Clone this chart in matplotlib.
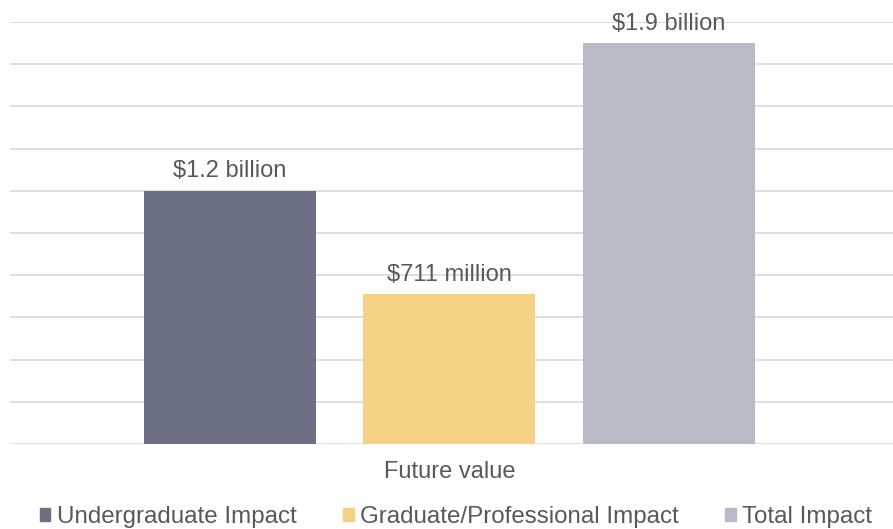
import matplotlib.pyplot as plt
from matplotlib.patches import Rectangle

plt.rcParams['font.family'] = ['Liberation Sans', 'DejaVu Sans']

series = ["Undergraduate Impact", "Graduate/Professional Impact", "Total Impact"]
values = [1.2, 0.711, 1.9]  # billions
labels = ["$1.2 billion", "$711 million", "$1.9 billion"]
category = "Future value"
colors = ["#6B7082", "#F5D185", "#B9BAC8"]
text_color = "#595959"


def main():
    fig = plt.figure(figsize=(8.93, 5.29), dpi=100)
    ax = fig.add_axes([10 / 893, 1 - 444 / 529, 883 / 893, 422 / 529])

    xs = [-1, 0, 1]
    bars = ax.bar(xs, values, width=0.782, color=colors, zorder=3)
    ax.bar_label(bars, labels=labels, padding=6, fontsize=17, color=text_color)

    ax.set_ylim(0, 2.0)
    ax.set_xlim(-2.0, 2.02)
    ax.set_yticks([i * 0.2 for i in range(11)])
    ax.yaxis.grid(True, color="#DCDCDC", linewidth=1.3, zorder=0)
    ax.tick_params(axis="y", left=False, labelleft=False)
    ax.set_xticks([0])
    ax.set_xticklabels([category], fontsize=17, color=text_color)
    ax.tick_params(axis="x", length=0, pad=12)
    for s in ax.spines.values():
        s.set_visible(False)

    handles = [Rectangle((0, 0), 1, 1, color=c) for c in colors]
    fig.legend(handles, series, loc="center", bbox_to_anchor=(456 / 893, 1 - 517 / 529),
               ncol=3, frameon=False, fontsize=17.4, labelcolor=text_color,
               handlelength=0.42, handleheight=0.42, handletextpad=0.25,
               columnspacing=1.95, borderpad=0)

    fig.savefig("out.png", dpi=100)


if __name__ == "__main__":
    main()
